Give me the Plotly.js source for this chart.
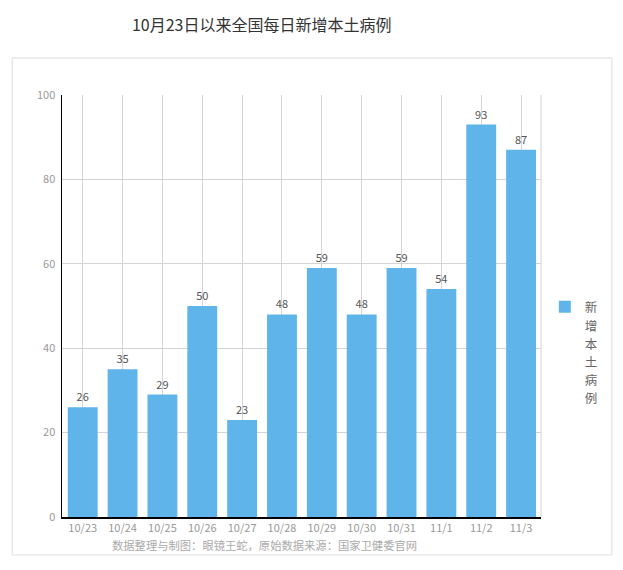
<!DOCTYPE html>
<html><head><meta charset="utf-8">
<script src="https://cdn.plot.ly/plotly-3.0.1.min.js"></script>
<style>body{margin:0;background:#fff}#c{width:623px;height:570px}</style>
</head><body><div id="c"></div>
<script>
const categories = ["10/23","10/24","10/25","10/26","10/27","10/28","10/29","10/30","10/31","11/1","11/2","11/3"];
const newLocalCases = [26,35,29,50,23,48,59,48,59,54,93,87];
const seriesChars = ["新","增","本","土","病","例"];
const titleText = "10月23日以来全国每日新增本土病例";
const sourceText = "数据整理与制图：眼镜王蛇，原始数据来源：国家卫健委官网";

const seriesName = seriesChars.map(c => '<span style="font-size:12.5px">' + c + '</span>').join('<br>');
const F = '"Noto Sans CJK SC", "Microsoft YaHei", sans-serif';
const trace = {
  type: 'bar', x: categories, y: newLocalCases, name: seriesName,
  marker: {color: '#5fb5ea'}, width: 0.75,
  text: newLocalCases.map(String), textposition: 'outside',
  textfont: {size: 11, color: '#555', family: F}, cliponaxis: false,
  showlegend: true
};
const layout = {
  width: 623, height: 570,
  margin: {l: 62, r: 82, t: 95, b: 53, autoexpand: false},
  paper_bgcolor: '#fff', plot_bgcolor: '#fff',
  font: {family: F},
  title: {text: titleText, x: 0.42, xanchor: 'center', y: 0.955, yanchor: 'middle',
          font: {size: 16, color: '#333', family: F}},
  xaxis: {type: 'category', range: [-0.52, 11.5], showgrid: true, gridcolor: '#d4d4d4',
          showline: true, linecolor: '#000', linewidth: 1.5, ticks: '', zeroline: false,
          tickfont: {size: 11, color: '#999', family: F}},
  yaxis: {range: [0, 100], dtick: 20, showgrid: true, gridcolor: '#d4d4d4',
          showline: true, linecolor: '#000', linewidth: 1.5, ticks: '', zeroline: false,
          tickfont: {size: 11, color: '#999', family: F}, ticklabelstandoff: 3},
  bargap: 0.25,
  legend: {x: 1.008, y: 0.535, xanchor: 'left', yanchor: 'top', valign: 'top',
           font: {size: 14, color: '#666', family: F}, bgcolor: 'rgba(0,0,0,0)'},
  shapes: [
    {type: 'rect', xref: 'paper', yref: 'paper', x0: -0.104, x1: 1.148, y0: -0.09, y1: 1.0877,
     line: {color: '#dddddd', width: 1}, fillcolor: 'rgba(0,0,0,0)', layer: 'below'},
    {type: 'line', xref: 'paper', yref: 'paper', x0: 1, x1: 1, y0: 0, y1: 1,
     line: {color: '#d4d4d4', width: 1}, layer: 'below'}
  ],
  annotations: [
    {text: sourceText, xref: 'paper', yref: 'paper', x: 0.423, y: -0.066,
     xanchor: 'center', yanchor: 'middle', showarrow: false,
     font: {size: 11.3, color: '#aaa', family: F}}
  ]
};
Plotly.newPlot('c', [trace], layout, {displayModeBar: false, staticPlot: true});
</script></body></html>
